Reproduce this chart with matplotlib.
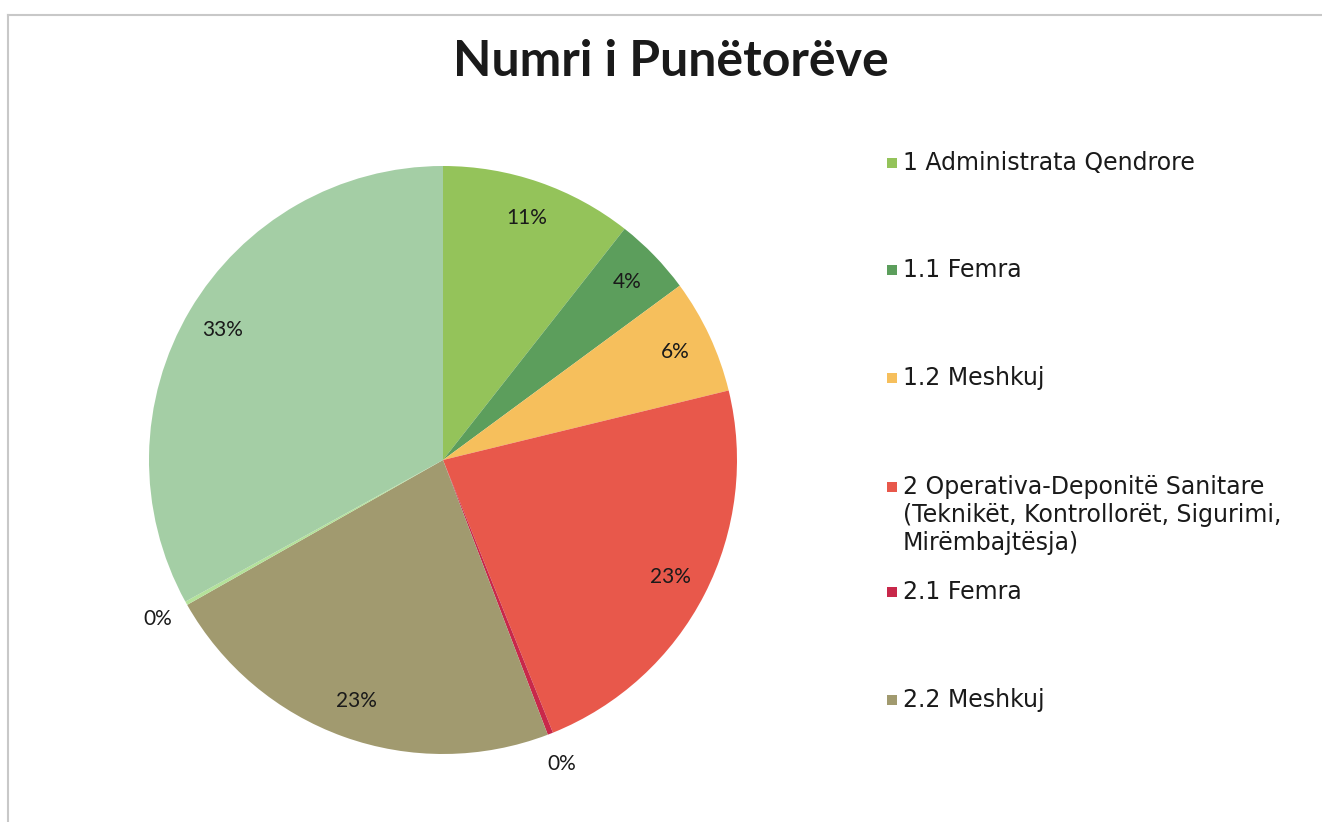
import numpy as np
import matplotlib.pyplot as plt
from matplotlib.patches import Rectangle

categories = ['1 Administrata Qendrore', '1.1 Femra', '1.2 Meshkuj',
              '2 Operativa-Deponitë Sanitare\n(Teknikët, Kontrollorët, Sigurimi,\nMirëmbajtësja)',
              '2.1 Femra', '2.2 Meshkuj', '3', '3.1']
shares = [10.6, 4.3, 6.3, 22.7, 0.3, 22.6, 0.2, 33.0]
colors = ['#94c35a', '#5c9e5c', '#f6bf5c', '#e8584b', '#c8284a', '#a19a6f', '#b4e29a', '#a4cea5']
shown_in_legend = 6

W, H = 1322, 822
fig = plt.figure(figsize=(W / 100, H / 100), dpi=100)

# chart frame (top and left edges visible)
fig.add_artist(plt.Line2D([8 / W, 8 / W], [0, 1 - 15 / H], color='#c8c8c8', lw=1.5))
fig.add_artist(plt.Line2D([8 / W, 1], [1 - 15 / H, 1 - 15 / H], color='#c8c8c8', lw=1.5))

fig.text(671 / W, 1 - 62 / H, 'Numri i Punëtorëve', ha='center', va='center',
         fontsize=36, fontweight='bold', family='Lato', color='#1a1a1a')

r_px = 294
lim = 1.2
cx, cy = 443, 460
side = 2 * lim * r_px
ax = fig.add_axes([(cx - side / 2) / W, (H - cy - side / 2) / H, side / W, side / H])

wedges, texts, autotexts = ax.pie(shares, colors=colors, startangle=90, counterclock=False,
                                  autopct=lambda p: f'{p:.0f}%', pctdistance=0.87,
                                  wedgeprops=dict(linewidth=0),
                                  textprops=dict(fontsize=15, family='Lato', color='#1a1a1a'))
ax.set_xlim(-lim, lim)
ax.set_ylim(-lim, lim)
ax.set_aspect('equal')
ax.axis('off')

# small slices get their labels outside the pie
for w, t, s in zip(wedges, autotexts, shares):
    if s < 1:
        ang = np.deg2rad((w.theta1 + w.theta2) / 2)
        t.set_position((1.11 * np.cos(ang), 1.11 * np.sin(ang)))

legend_y = [163, 270, 378, 487, 592, 700]
for w, lab, y in zip(wedges[:shown_in_legend], categories[:shown_in_legend], legend_y):
    fig.add_artist(Rectangle((887 / W, 1 - (y + 5) / H), 10 / W, 10 / H,
                             transform=fig.transFigure, color=w.get_facecolor(), lw=0))
    fig.text(903 / W, 1 - (y - 12) / H, lab, ha='left', va='top', fontsize=17,
             family='DejaVu Sans', color='#1a1a1a', linespacing=1.2)

fig.savefig('out.png', dpi=100)
